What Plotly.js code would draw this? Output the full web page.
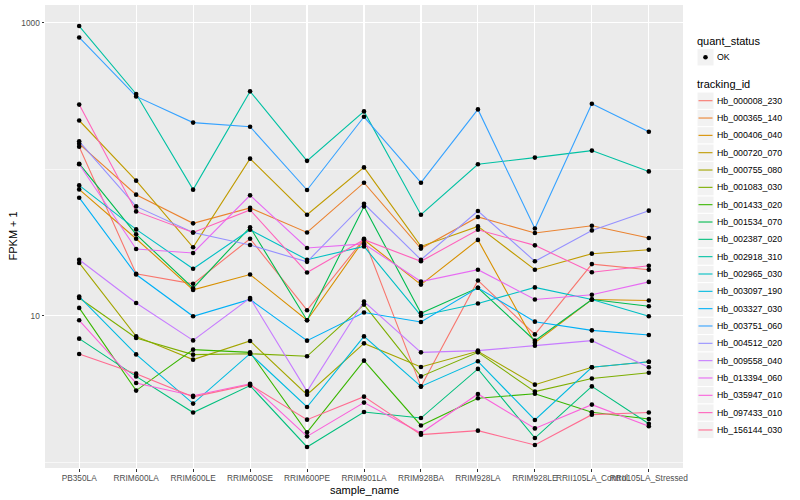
<!DOCTYPE html>
<html><head><meta charset="utf-8">
<script src="https://cdn.plot.ly/plotly-3.0.1.min.js"></script>
<style>html,body{margin:0;padding:0;background:#fff}#chart{width:800px;height:500px}</style>
</head><body><div id="chart"></div>
<script>
const samples = ["PB350LA","RRIM600LA","RRIM600LE","RRIM600SE","RRIM600PE","RRIM901LA","RRIM928BA","RRIM928LA","RRIM928LE","RRII105LA_Control","RRII105LA_Stressed"];
const trackingIds = ["Hb_000008_230","Hb_000365_140","Hb_000406_040","Hb_000720_070","Hb_000755_080","Hb_001083_030","Hb_001433_020","Hb_001534_070","Hb_002387_020","Hb_002918_310","Hb_002965_030","Hb_003097_190","Hb_003327_030","Hb_003751_060","Hb_004512_020","Hb_009558_040","Hb_013394_060","Hb_035947_010","Hb_097433_010","Hb_156144_030"];
const colors = ["#F8766D","#EA8331","#D89000","#C09B00","#A3A500","#7CAE00","#39B600","#00BB4E","#00BF7D","#00C1A3","#00BFC4","#00BAE0","#00B0F6","#35A2FF","#9590FF","#C77CFF","#E76BF3","#FA62DB","#FF62BC","#FF6C91"];
const quantStatus = ["OK"];

// FPKM + 1 per sample, one array per tracking_id
const hb_000008_230 = [142.5, 19.3, 16.5, 33.5, 10.9, 33.5, 3.28, 17.4, 7.45, 22.5, 20.6];
const hb_000365_140 = [149, 67, 42.7, 54.4, 37.0, 80.9, 28.7, 47.2, 36.7, 41.1, 33.9];
const hb_000406_040 = [72.8, 33.5, 15.0, 19.1, 9.3, 33.0, 16.3, 32.9, 6.54, 12.9, 12.7];
const hb_000720_070 = [215, 83.5, 29.3, 118, 48.9, 102.9, 29.7, 40.7, 20.6, 26.5, 28.2];
const hb_000755_080 = [22.9, 7.22, 5.01, 6.72, 2.89, 6.47, 4.46, 5.71, 3.38, 4.44, 4.85];
const hb_001083_030 = [13.2, 7.04, 5.42, 5.50, 5.28, 11.9, 3.85, 5.62, 3.03, 3.72, 4.08];
const hb_001433_020 = [11.3, 3.08, 5.86, 5.62, 1.60, 4.93, 1.78, 2.73, 2.93, 2.19, 1.97];
const hb_001534_070 = [109, 35.9, 15.4, 40.1, 9.3, 55.7, 10.4, 15.5, 6.75, 12.9, 11.6];
const hb_002387_020 = [6.97, 3.85, 2.18, 3.33, 1.27, 2.20, 2.00, 4.33, 1.46, 3.29, 1.83];
const hb_002918_310 = [949, 326, 72.5, 340, 114, 248, 48.9, 108, 120, 134, 96.6];
const hb_002965_030 = [77.5, 38.8, 20.9, 38.6, 24.1, 29.7, 10.0, 12.1, 15.6, 12.9, 9.9];
const hb_003097_190 = [13.5, 5.44, 2.51, 5.50, 2.38, 7.22, 3.29, 4.88, 1.94, 4.44, 4.85];
const hb_003327_030 = [63.9, 19.1, 9.9, 12.9, 6.75, 10.5, 9.06, 15.5, 9.1, 7.94, 7.38];
const hb_003751_060 = [793, 314, 208, 195, 72.1, 228, 80.9, 256, 39.4, 280, 180];
const hb_004512_020 = [155, 55.7, 37.0, 30.4, 23.3, 58.1, 24.1, 51.8, 23.5, 38.2, 52.1];
const hb_009558_040 = [24.1, 12.2, 6.78, 13.2, 3.04, 12.5, 5.62, 5.77, 6.24, 6.75, 4.44];
const hb_013394_060 = [108, 28.5, 26.8, 66.3, 29.0, 30.9, 17.1, 20.6, 12.9, 13.9, 17.0];
const hb_035947_010 = [9.3, 3.47, 2.84, 3.43, 1.50, 2.55, 1.58, 2.92, 1.70, 2.47, 1.76];
const hb_097433_010 = [276, 51.5, 37.0, 52.7, 19.7, 33.0, 23.5, 38.6, 30.2, 19.8, 21.9];
const hb_156144_030 = [5.48, 4.02, 2.79, 3.38, 1.95, 2.80, 1.54, 1.64, 1.31, 2.11, 2.18];

const seriesValues = [hb_000008_230, hb_000365_140, hb_000406_040, hb_000720_070, hb_000755_080, hb_001083_030, hb_001433_020, hb_001534_070, hb_002387_020, hb_002918_310, hb_002965_030, hb_003097_190, hb_003327_030, hb_003751_060, hb_004512_020, hb_009558_040, hb_013394_060, hb_035947_010, hb_097433_010, hb_156144_030];

const yTickVals = [10, 1000];
const yTickText = ["10", "1000"];
const yMinorVals = [1, 100];
const xTitle = "sample_name";
const yTitle = "FPKM + 1";

const FONT = "Liberation Sans, Arial, Helvetica, sans-serif";
const W = 800, H = 500, ML = 45, MR = 117, MT = 5, MB = 32;
const plotW = W - ML - MR, plotH = H - MT - MB;
const px = v => (v - ML) / plotW;          // pixel x -> paper x
const py = v => (H - MB - v) / plotH;      // pixel y -> paper y

const traces = [];
seriesValues.forEach((vals, i) => {
  traces.push({
    type: "scatter", mode: "lines", x: samples, y: vals,
    name: trackingIds[i], line: {color: colors[i], width: 1.1},
    showlegend: false, hoverinfo: "skip"
  });
});
const allX = [], allY = [];
seriesValues.forEach(vals => { vals.forEach((v, j) => { allX.push(samples[j]); allY.push(v); }); });
traces.push({
  type: "scatter", mode: "markers", x: allX, y: allY, name: quantStatus[0],
  marker: {color: "#000000", size: 4.6}, showlegend: false, hoverinfo: "skip"
});

// ggplot-style legend built from the id / colour arrays
const shapes = [], annotations = [];
const keyL = 697, keyR = 714, keyH = 17.33, titleFont = {family: FONT, size: 11, color: "#000000"};
const itemFont = {family: FONT, size: 8.8, color: "#000000"};
function addTitle(text, cy) {
  annotations.push({xref: "paper", yref: "paper", x: px(695.5), y: py(cy), xanchor: "left", yanchor: "middle",
    text: text, showarrow: false, font: titleFont, borderpad: 0});
}
function addKey(cy) {
  shapes.push({type: "rect", xref: "paper", yref: "paper", x0: px(keyL), x1: px(keyR),
    y0: py(cy - keyH / 2), y1: py(cy + keyH / 2), fillcolor: "#F2F2F2", line: {color: "#FFFFFF", width: 1}, layer: "above"});
}
function addLabel(text, cy) {
  annotations.push({xref: "paper", yref: "paper", x: px(716), y: py(cy), xanchor: "left", yanchor: "middle",
    text: text, showarrow: false, font: itemFont, borderpad: 0});
}
addTitle("quant_status", 40.7);
addKey(57.3);
shapes.push({type: "circle", xref: "paper", yref: "paper", x0: px(703.2), x1: px(707.8), y0: py(59.6), y1: py(55.0),
  fillcolor: "#000000", line: {color: "#000000", width: 0}, layer: "above"});
addLabel(quantStatus[0], 57.3);
addTitle("tracking_id", 84.3);
trackingIds.forEach((id, i) => {
  const cy = 100.7 + keyH * i;
  addKey(cy);
  shapes.push({type: "line", xref: "paper", yref: "paper", x0: px(698.5), x1: px(712.5), y0: py(cy), y1: py(cy),
    line: {color: colors[i], width: 1.1}, layer: "above"});
  addLabel(id, cy);
});

// axis titles placed like ggplot's
annotations.push({xref: "paper", yref: "paper", x: 0.5, y: py(490), xanchor: "center", yanchor: "middle",
  text: xTitle, showarrow: false, font: titleFont, borderpad: 0});
annotations.push({xref: "paper", yref: "paper", x: px(12), y: 0.5, xanchor: "center", yanchor: "middle",
  text: yTitle, textangle: -90, showarrow: false, font: titleFont, borderpad: 0});

const layout = {
  width: W, height: H,
  margin: {l: ML, r: MR, t: MT, b: MB, pad: 0},
  paper_bgcolor: "#FFFFFF", plot_bgcolor: "#EBEBEB",
  font: {family: FONT, color: "#000000"},
  showlegend: false,
  shapes: shapes, annotations: annotations,
  xaxis: {
    type: "category", range: [-0.6, 10.6], tickangle: 0,
    showgrid: true, gridcolor: "#FFFFFF", gridwidth: 1.1, zeroline: false, showline: false,
    ticks: "outside", ticklen: 2.5, tickwidth: 1, tickcolor: "#333333",
    tickfont: {family: FONT, size: 8.3, color: "#4D4D4D"},
    automargin: false
  },
  yaxis: {
    type: "log", range: [-0.04, 3.121],
    tickmode: "array", tickvals: yTickVals, ticktext: yTickText,
    showgrid: true, gridcolor: "#FFFFFF", gridwidth: 1.1, zeroline: false, showline: false,
    ticks: "outside", ticklen: 2.5, tickwidth: 1, tickcolor: "#333333",
    tickfont: {family: FONT, size: 8.3, color: "#4D4D4D"},
    minor: {tickmode: "array", tickvals: yMinorVals, showgrid: true, gridcolor: "#FFFFFF", gridwidth: 0.6, ticks: ""},
    automargin: false
  }
};

Plotly.newPlot("chart", traces, layout, {displayModeBar: false, staticPlot: true});
</script>
</body></html>
